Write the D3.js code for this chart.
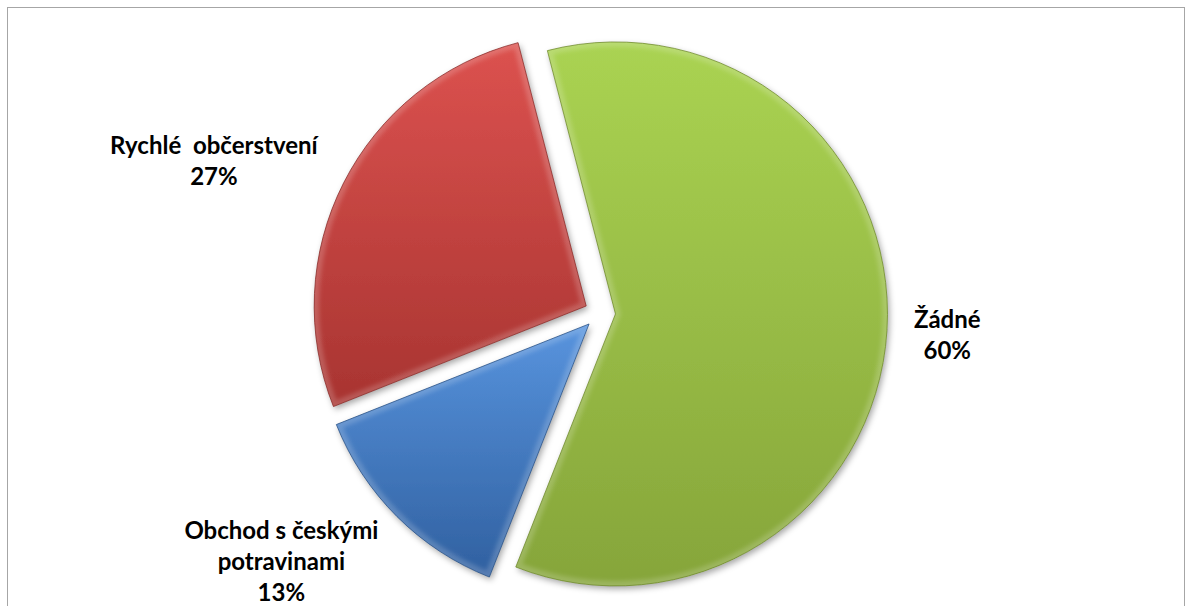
<!DOCTYPE html>
<html>
<head>
<meta charset="utf-8">
<script src="https://cdn.jsdelivr.net/npm/d3@7/dist/d3.min.js"></script>
<style>
  html, body { margin: 0; padding: 0; background: #fff; }
  #chart { width: 1192px; height: 606px; overflow: hidden; }
</style>
</head>
<body>
<div id="chart"></div>
<script>
// data
const categories = ['Žádné', 'Obchod s českými potravinami', 'Rychlé občerstvení']
const shares = [60, 13, 27]
const labelLines = [['Žádné'], ['Obchod s českými', 'potravinami'], ['Rychlé  občerstvení']]
const sliceColors = [
  { top: '#aad352', bottom: '#86a53a', edge: '#6c872a' },
  { top: '#5894de', bottom: '#3060a0', edge: '#264d82' },
  { top: '#dc524f', bottom: '#a83431', edge: '#862826' }
]

const options = {
  width: 1192,
  height: 606,
  cx: 600,
  cy: 313,
  radius: 272,
  explode: 15.5,
  startDeg: -14.5,
  labelGap: 27,
  lineHeight: 31
}

const svg = d3.select('#chart')
  .append('svg')
  .attr('width', options.width)
  .attr('height', options.height)

const defs = svg.append('defs')

// soft shadow like the office pie
const shadow = defs.append('filter')
  .attr('id', 'sliceShadow')
  .attr('x', '-10%').attr('y', '-10%')
  .attr('width', '130%').attr('height', '130%')
shadow.append('feDropShadow')
  .attr('dx', 2)
  .attr('dy', 3)
  .attr('stdDeviation', 3)
  .attr('flood-color', '#000')
  .attr('flood-opacity', 0.35)

const bevelBlur = defs.append('filter').attr('id', 'bevelBlur')
bevelBlur.append('feGaussianBlur').attr('stdDeviation', 2)

sliceColors.forEach((c, i) => {
  const grad = defs.append('linearGradient')
    .attr('id', `sliceGrad${i}`)
    .attr('x1', 0).attr('y1', 0)
    .attr('x2', 0).attr('y2', 1)
  grad.append('stop').attr('offset', '0%').attr('stop-color', c.top)
  grad.append('stop').attr('offset', '100%').attr('stop-color', c.bottom)
})

// chart area frame
svg.append('rect')
  .attr('x', 7.5)
  .attr('y', 7.5)
  .attr('width', 1177)
  .attr('height', 620)
  .attr('fill', 'none')
  .attr('stroke', '#a6a6a6')
  .attr('stroke-width', 1)

const startRad = options.startDeg * Math.PI / 180
const pie = d3.pie()
  .sort(null)
  .value(d => d.value)
  .startAngle(startRad)
  .endAngle(startRad + 2 * Math.PI)

const arc = d3.arc()
  .innerRadius(0)
  .outerRadius(options.radius)

const data = categories.map((name, i) => ({ name, value: shares[i], lines: labelLines[i] }))
const arcs = pie(data)

const gPie = svg.append('g')
  .attr('class', 'pie')
  .attr('transform', `translate(${options.cx},${options.cy})`)

const mid = d => (d.startAngle + d.endAngle) / 2
const explodeShift = d => {
  const a = mid(d)
  return `translate(${Math.sin(a) * options.explode},${-Math.cos(a) * options.explode})`
}

arcs.forEach((d, i) => {
  defs.append('clipPath')
    .attr('id', `sliceClip${i}`)
    .append('path')
    .attr('d', arc(d))
})

const gSlice = gPie.selectAll('g.slice')
  .data(arcs)
  .enter()
  .append('g')
  .attr('class', 'slice')
  .attr('transform', explodeShift)

gSlice.append('path')
  .attr('d', arc)
  .attr('fill', (d, i) => `url(#sliceGrad${i})`)
  .attr('filter', 'url(#sliceShadow)')

// light rim inside the slice, a rough bevel
gSlice.append('path')
  .attr('d', arc)
  .attr('clip-path', (d, i) => `url(#sliceClip${i})`)
  .attr('fill', 'none')
  .attr('stroke', '#fff')
  .attr('stroke-opacity', 0.18)
  .attr('stroke-width', 10)
  .attr('filter', 'url(#bevelBlur)')

gSlice.append('path')
  .attr('d', arc)
  .attr('fill', 'none')
  .attr('stroke', (d, i) => sliceColors[i].edge)
  .attr('stroke-width', 1)
  .attr('stroke-opacity', 0.75)

// data labels, placed outside end like excel
const gLabels = svg.append('g').attr('class', 'labels')

arcs.forEach(d => {
  const a = mid(d)
  const ux = Math.sin(a)
  const uy = -Math.cos(a)
  const r = options.radius + options.explode + options.labelGap
  const px = options.cx + ux * r
  const py = options.cy + uy * r

  const lines = d.data.lines.concat([`${d.data.value}%`])
  const g = gLabels.append('g')
  const text = g.append('text')
    .attr('text-anchor', 'middle')
    .attr('font-family', 'Lato, "Open Sans", sans-serif')
    .attr('font-weight', 'bold')
    .attr('font-size', 24)
    .style('white-space', 'pre')
    .style('fill', '#000')

  text.selectAll('tspan')
    .data(lines)
    .enter()
    .append('tspan')
    .attr('x', 0)
    .attr('dy', (t, i) => i === 0 ? 0 : options.lineHeight)
    .text(t => t)

  const box = text.node().getBBox()
  const m = Math.max(Math.abs(ux), Math.abs(uy))
  const centerX = px + (box.width / 2) * (ux / m)
  const centerY = py + (box.height / 2) * uy * 0.78
  g.attr('transform', `translate(${centerX - (box.x + box.width / 2)},${centerY - (box.y + box.height / 2)})`)
})
</script>
</body>
</html>
